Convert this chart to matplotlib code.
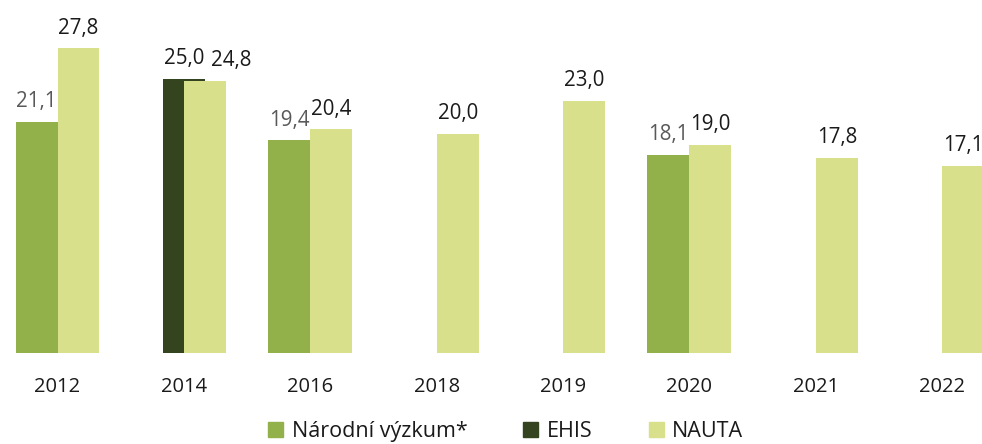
import matplotlib.pyplot as plt
import matplotlib.patches as mpatches
import numpy as np

plt.rcParams['font.family'] = ['Open Sans', 'DejaVu Sans']

# Data
years = ['2012', '2014', '2016', '2018', '2019', '2020', '2021', '2022']
narodni = [21.1, None, 19.4, None, None, 18.1, None, None]
ehis = [None, 25.0, None, None, None, None, None, None]
nauta = [27.8, 24.8, 20.4, 20.0, 23.0, 19.0, 17.8, 17.1]

series = [
    ('Národní výzkum*', narodni, '#93b14b', '#595959', -0.166),
    ('EHIS', ehis, '#34441f', '#1a1a1a', 0.0),
    ('NAUTA', nauta, '#d8e08b', '#1a1a1a', 0.166),
]

fig = plt.figure(figsize=(9.82, 4.44), dpi=100)
ax = fig.add_axes([0, 0.205, 1, 0.795])

x = np.arange(len(years))
width = 0.332

for name, vals, color, txtcolor, off in series:
    for i, v in enumerate(vals):
        if v is None:
            continue
        ax.bar(x[i] + off, v, width=width, color=color, zorder=2)
        dx = 0
        # label for 2014 NAUTA is pushed right to clear the EHIS label
        if name == 'NAUTA' and years[i] == '2014':
            dx = 19
        ax.annotate(f'{v:.1f}'.replace('.', ','), (x[i] + off, v),
                    xytext=(dx, 7), textcoords='offset points',
                    ha='center', va='bottom', fontsize=14.8, color=txtcolor)

ax.set_xlim(-0.455, 7.315)
ax.set_ylim(0, 32.2)
ax.set_xticks(x)
ax.set_xticklabels(years, fontsize=14.5, color='#1a1a1a')
ax.tick_params(axis='x', length=0, pad=17)
ax.set_yticks([])
for s in ax.spines.values():
    s.set_visible(False)

# Legend
handles = [mpatches.Patch(color=c, label=n) for n, _, c, _, _ in series]
fig.legend(handles=handles, loc='lower center', bbox_to_anchor=(0.515, -0.04),
           ncol=3, frameon=False, fontsize=15.5, handlelength=0.7, handleheight=0.7,
           handletextpad=0.4, columnspacing=2.6, labelcolor='#1a1a1a')

fig.savefig('out.png', dpi=100)
